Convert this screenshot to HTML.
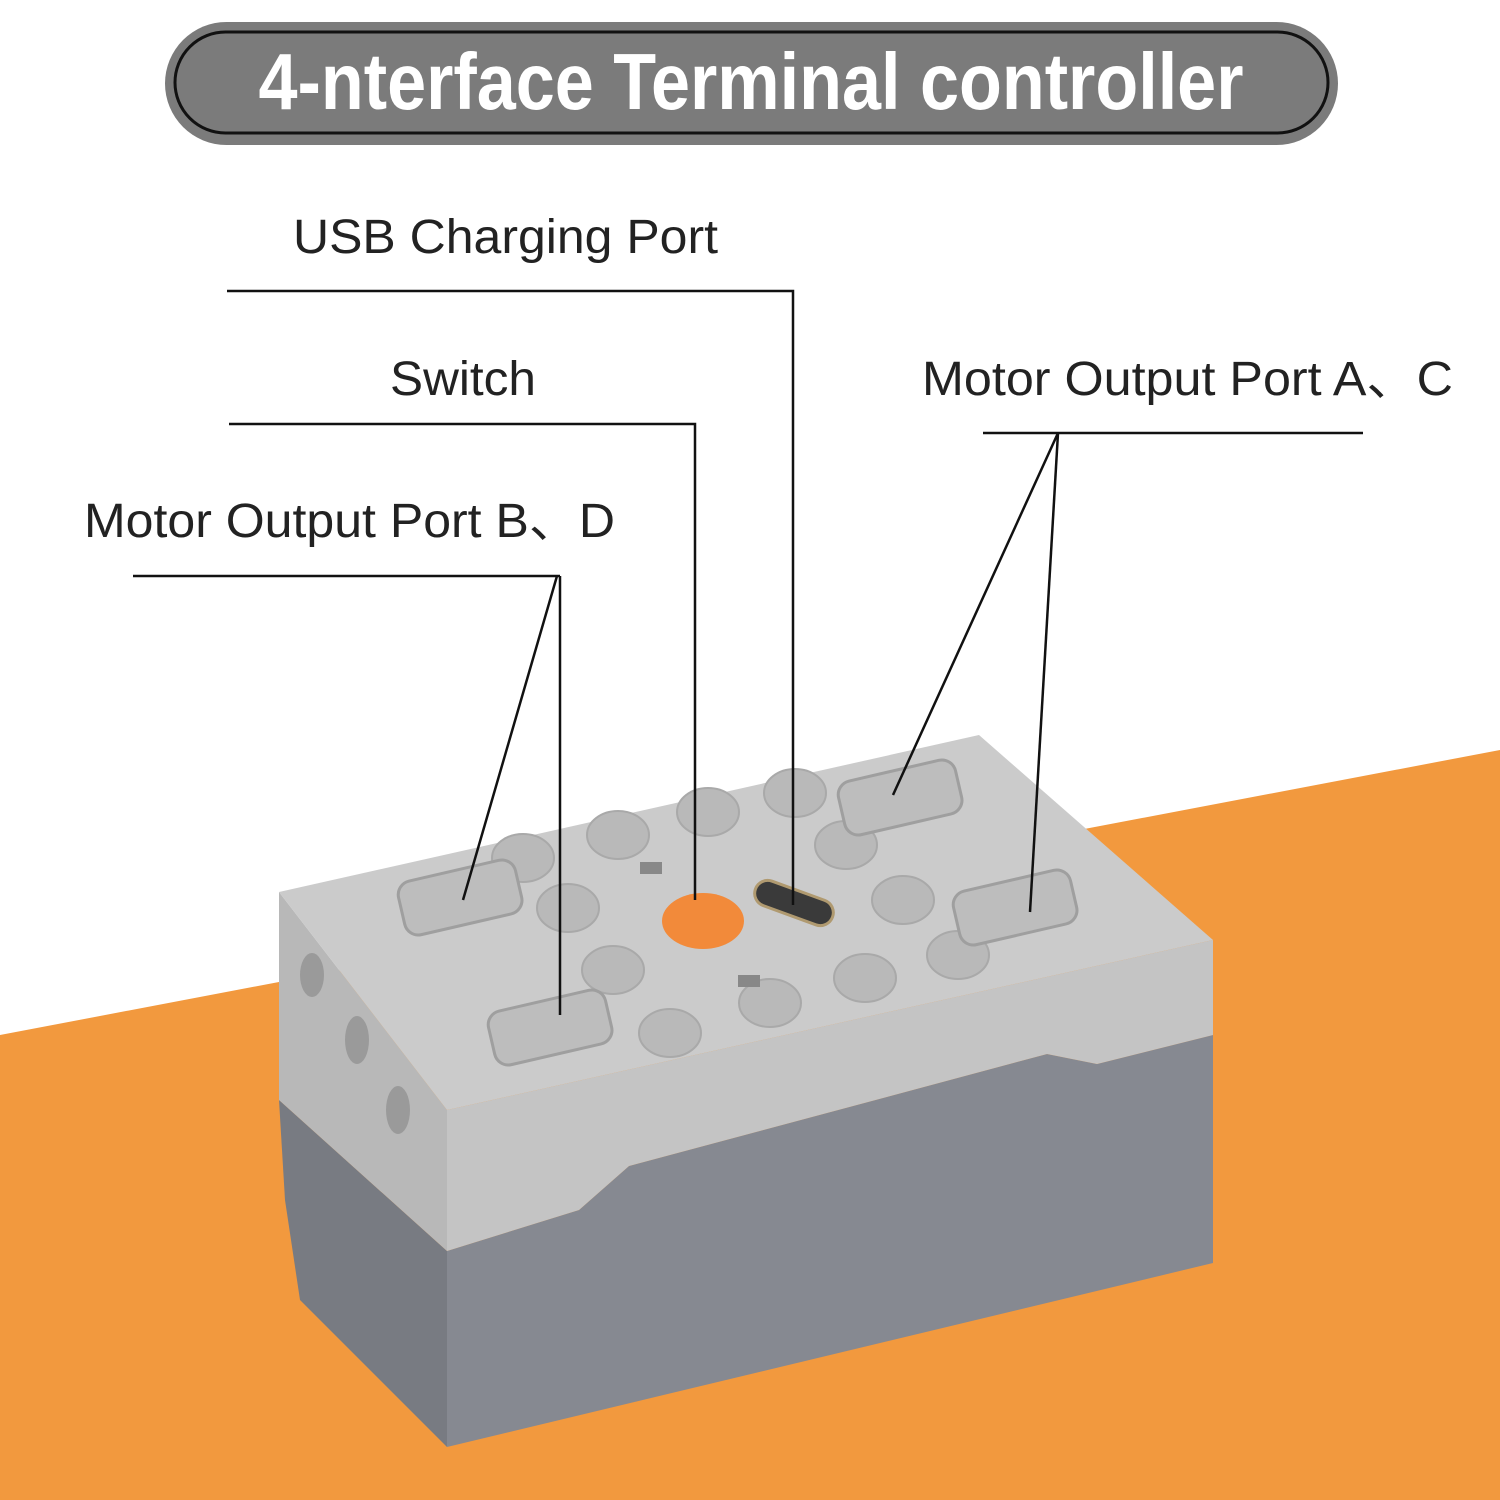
<!DOCTYPE html>
<html><head><meta charset="utf-8"><style>
html,body{margin:0;padding:0;background:#fff;}
svg{display:block;}
</style></head><body>
<svg width="1500" height="1500" viewBox="0 0 1500 1500" xmlns="http://www.w3.org/2000/svg" font-family="Liberation Sans, Arial, sans-serif">
<rect width="1500" height="1500" fill="#fff"/>
<polygon points="0,1035 1500,750 1500,1500 0,1500" fill="#F2993E"/>
<!-- title -->
<rect x="165" y="22" width="1173" height="123" rx="61.5" fill="#7b7b7b"/>
<rect x="175" y="32" width="1153" height="101" rx="50.5" fill="none" stroke="#111" stroke-width="3"/>
<text x="751" y="109" text-anchor="middle" font-size="80" font-weight="bold" fill="#fff" textLength="985" lengthAdjust="spacingAndGlyphs">4-nterface Terminal controller</text>
<!-- box -->
<polygon points="279,1100 447,1251 447,1447 300,1300 285,1200" fill="#787b82"/>
<polygon points="447,1251 579,1210 629,1166 1047,1054 1097,1064 1213,1035 1213,1263 447,1447" fill="#868991"/>
<polygon points="279,892 447,1110 447,1251 279,1100" fill="#b8b8b8"/>
<polygon points="447,1110 1213,940 1213,1035 1097,1064 1047,1054 629,1166 579,1210 447,1251" fill="#c4c4c4"/>
<polygon points="279,892 979,735 1213,940 447,1110" fill="#cbcbcb"/>
<g fill="#9a9a9a"><ellipse cx="312" cy="975" rx="12" ry="22"/><ellipse cx="357" cy="1040" rx="12" ry="24"/><ellipse cx="398" cy="1110" rx="12" ry="24"/></g>
<!-- studs -->
<g fill="#b9b9b9" stroke="#a9a9a9" stroke-width="2">
<ellipse cx="523" cy="858" rx="31" ry="24"/><ellipse cx="618" cy="835" rx="31" ry="24"/><ellipse cx="708" cy="812" rx="31" ry="24"/><ellipse cx="795" cy="793" rx="31" ry="24"/>
<ellipse cx="568" cy="908" rx="31" ry="24"/><ellipse cx="846" cy="845" rx="31" ry="24"/><ellipse cx="903" cy="900" rx="31" ry="24"/>
<ellipse cx="613" cy="970" rx="31" ry="24"/><ellipse cx="770" cy="1003" rx="31" ry="24"/><ellipse cx="865" cy="978" rx="31" ry="24"/><ellipse cx="958" cy="955" rx="31" ry="24"/><ellipse cx="670" cy="1033" rx="31" ry="24"/>
</g>
<!-- ports -->
<g fill="#bdbdbd" stroke="#9f9f9f" stroke-width="3">
<rect x="400" y="870" width="120" height="55" rx="14" transform="rotate(-13 460 897)"/>
<rect x="490" y="1000" width="120" height="55" rx="14" transform="rotate(-13 550 1027)"/>
<rect x="840" y="770" width="120" height="55" rx="14" transform="rotate(-13 900 797)"/>
<rect x="955" y="880" width="120" height="55" rx="14" transform="rotate(-13 1015 907)"/>
</g>
<!-- button and usb -->
<ellipse cx="703" cy="921" rx="41" ry="28" fill="#F28A3A"/>
<rect x="753" y="890" width="82" height="26" rx="13" fill="#3a3a3a" stroke="#b09a70" stroke-width="3" transform="rotate(20 794 903)"/>
<rect x="640" y="862" width="22" height="12" fill="#888"/>
<rect x="738" y="975" width="22" height="12" fill="#888"/>
<!-- labels -->
<g font-size="48" fill="#222">
<text x="293" y="253" textLength="425" lengthAdjust="spacingAndGlyphs">USB Charging Port</text>
<text x="390" y="395" textLength="146" lengthAdjust="spacingAndGlyphs">Switch</text>
<text x="84" y="537" textLength="531" lengthAdjust="spacingAndGlyphs">Motor Output Port B、D</text>
<text x="922" y="395" textLength="531" lengthAdjust="spacingAndGlyphs">Motor Output Port A、C</text>
</g>
<g stroke="#111" stroke-width="2.5" fill="none">
<polyline points="227,291 793,291 793,905"/>
<polyline points="229,424 695,424 695,900"/>
<line x1="133" y1="576" x2="560" y2="576"/>
<line x1="557" y1="576" x2="463" y2="900"/>
<line x1="560" y1="576" x2="560" y2="1015"/>
<line x1="983" y1="433" x2="1363" y2="433"/>
<line x1="1058" y1="433" x2="893" y2="795"/>
<line x1="1058" y1="433" x2="1030" y2="912"/>
</g>
</svg>
</body></html>
